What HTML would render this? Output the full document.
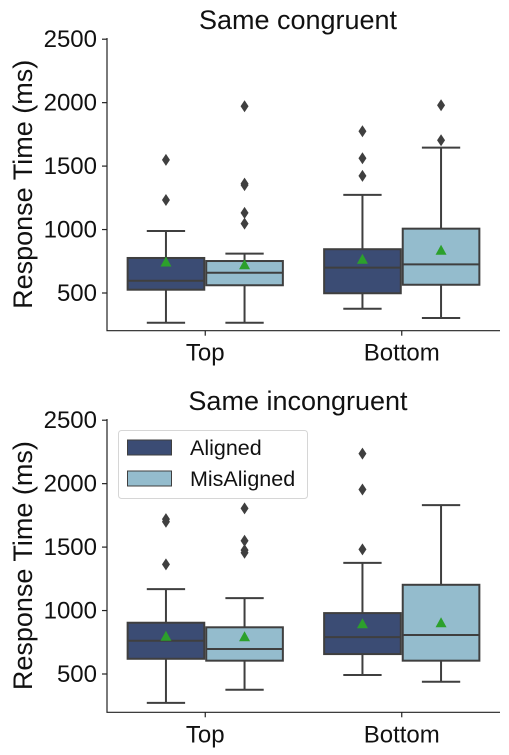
<!DOCTYPE html>
<html><head><meta charset="utf-8"><style>
html,body{margin:0;padding:0;background:#fff;}
svg{display:block;font-family:"Liberation Sans",Arial,sans-serif;}
</style></head><body>
<svg id="chart" width="509" height="755" viewBox="0 0 509 755" xmlns="http://www.w3.org/2000/svg"></svg>
<script>
const categories = ["Top", "Bottom"];
const hues = ["Aligned", "MisAligned"];
const yTicks = [500, 1000, 1500, 2000, 2500];
const panelTitles = ["Same congruent", "Same incongruent"];
// [low whisker, Q1, median, Q3, high whisker, mean]
const congruentTopAligned = [266, 526, 597, 776, 989, 744];
const congruentTopMis = [266, 561, 660, 752, 810, 723];
const congruentBottomAligned = [376, 498, 700, 845, 1273, 766];
const congruentBottomMis = [303, 565, 726, 1007, 1646, 837];
const congruentOutliersTopAligned = [1549, 1233];
const congruentOutliersTopMis = [1972, 1362, 1350, 1131, 1047];
const congruentOutliersBottomAligned = [1775, 1562, 1423];
const congruentOutliersBottomMis = [1980, 1704];
const incongruentTopAligned = [272, 620, 762, 904, 1169, 797];
const incongruentTopMis = [376, 605, 697, 868, 1098, 794];
const incongruentBottomAligned = [492, 657, 791, 980, 1376, 896];
const incongruentBottomMis = [439, 605, 807, 1203, 1831, 904];
const incongruentOutliersTopAligned = [1720, 1700, 1364];
const incongruentOutliersTopMis = [1805, 1550, 1476, 1455];
const incongruentOutliersBottomAligned = [2237, 1954, 1482];
const incongruentOutliersBottomMis = [];

const NS = "http://www.w3.org/2000/svg";
const svg = document.getElementById("chart");
function mk(tag, attrs, parent) {
  const e = document.createElementNS(NS, tag);
  for (const k in attrs) e.setAttribute(k, attrs[k]);
  (parent || svg).appendChild(e);
  return e;
}
const colors = ["#3b4c74", "#94bccd"];
const lineC = "#3f3f3f";

const panels = [
  {top: 38, bottom: 330.7, base: 293, stats: [[congruentTopAligned, congruentTopMis], [congruentBottomAligned, congruentBottomMis]],
   outs: [[congruentOutliersTopAligned, congruentOutliersTopMis], [congruentOutliersBottomAligned, congruentOutliersBottomMis]], legend: false},
  {top: 419, bottom: 712.3, base: 674, stats: [[incongruentTopAligned, incongruentTopMis], [incongruentBottomAligned, incongruentBottomMis]],
   outs: [[incongruentOutliersTopAligned, incongruentOutliersTopMis], [incongruentOutliersBottomAligned, incongruentOutliersBottomMis]], legend: true}
];
const xLeft = 107, xRight = 500;
const unit = (xRight - xLeft) / 2;
function xScale(c) { return xLeft + (c + 0.5) * unit; }

panels.forEach((p, pi) => {
  const g = mk("g", {});
  
  
  const yScale = v => p.base - (v - 500) * 0.1269;
  const t = mk("text", {x: 298, y: p.top - 9, "text-anchor": "middle", "font-size": 27, fill: "#111"}, g);
  t.textContent = panelTitles[pi];
  
  
  const yl = mk("text", {x: 0, y: 0, "text-anchor": "middle", "font-size": 27, fill: "#111",
    transform: `translate(32,${(p.top + p.bottom) / 2}) rotate(-90)`}, g);
  yl.textContent = "Response Time (ms)";
  
  
  const ax = mk("path", {d: `M${xLeft},${p.top}V${p.bottom}H${xRight}`, fill: "none", stroke: "#222", "stroke-width": 1.2}, g);
  
  
  yTicks.forEach(v => {
    const y = yScale(v);
    mk("line", {x1: xLeft - 5, x2: xLeft, y1: y, y2: y, stroke: "#222", "stroke-width": 1.2}, g);
    const tl = mk("text", {x: xLeft - 10, y: y + 8, "text-anchor": "end", "font-size": 24, fill: "#111"}, g);
    tl.textContent = v;
    
    
  });
  categories.forEach((c, ci) => {
    const x = xScale(ci);
    mk("line", {x1: x, x2: x, y1: p.bottom, y2: p.bottom + 5, stroke: "#222", "stroke-width": 1.2}, g);
    const tl = mk("text", {x: x, y: p.bottom + 30, "text-anchor": "middle", "font-size": 24, fill: "#111"}, g);
    tl.textContent = c;
    
    
    hues.forEach((h, hi) => {
      const s = p.stats[ci][hi];
      const cx = x + (hi === 0 ? -0.2 : 0.2) * unit;
      const w = 0.39 * unit;
      const bg = mk("g", {}, g);
      
      
      const cap = w / 4;
      mk("line", {x1: cx, x2: cx, y1: yScale(s[0]), y2: yScale(s[1]), stroke: lineC, "stroke-width": 2}, bg);
      mk("line", {x1: cx, x2: cx, y1: yScale(s[3]), y2: yScale(s[4]), stroke: lineC, "stroke-width": 2}, bg);
      mk("line", {x1: cx - cap, x2: cx + cap, y1: yScale(s[0]), y2: yScale(s[0]), stroke: lineC, "stroke-width": 2}, bg);
      mk("line", {x1: cx - cap, x2: cx + cap, y1: yScale(s[4]), y2: yScale(s[4]), stroke: lineC, "stroke-width": 2}, bg);
      mk("rect", {x: cx - w / 2, y: yScale(s[3]), width: w, height: yScale(s[1]) - yScale(s[3]), fill: colors[hi], stroke: lineC, "stroke-width": 2}, bg);
      mk("line", {x1: cx - w / 2, x2: cx + w / 2, y1: yScale(s[2]), y2: yScale(s[2]), stroke: lineC, "stroke-width": 2}, bg);
      const my = yScale(s[5]);
      mk("path", {d: `M${cx},${my - 5.5}L${cx + 5.5},${my + 4.5}L${cx - 5.5},${my + 4.5}Z`, fill: "#2ca02c"}, bg);
      p.outs[ci][hi].forEach(v => {
        const oy = yScale(v);
        mk("path", {d: `M${cx},${oy - 6}L${cx + 4},${oy}L${cx},${oy + 6}L${cx - 4},${oy}Z`, fill: lineC}, bg);
      });
    });
  });
  if (p.legend) {
    const lg = mk("g", {}, g);
    
    
    mk("rect", {x: 118.5, y: 430.5, width: 189, height: 68, rx: 3, fill: "#fff", "fill-opacity": 0.8, stroke: "#d6d6d6"}, lg);
    hues.forEach((h, hi) => {
      const e = mk("g", {}, lg);
      
      
      const yy = 440 + hi * 31;
      mk("rect", {x: 127.5, y: yy, width: 44, height: 15, fill: colors[hi], stroke: lineC, "stroke-width": 1}, e);
      const lt = mk("text", {x: 190, y: yy + 15, "font-size": 21.5, fill: "#111"}, e);
      lt.textContent = h;
    });
  }
});
</script>
</body></html>
